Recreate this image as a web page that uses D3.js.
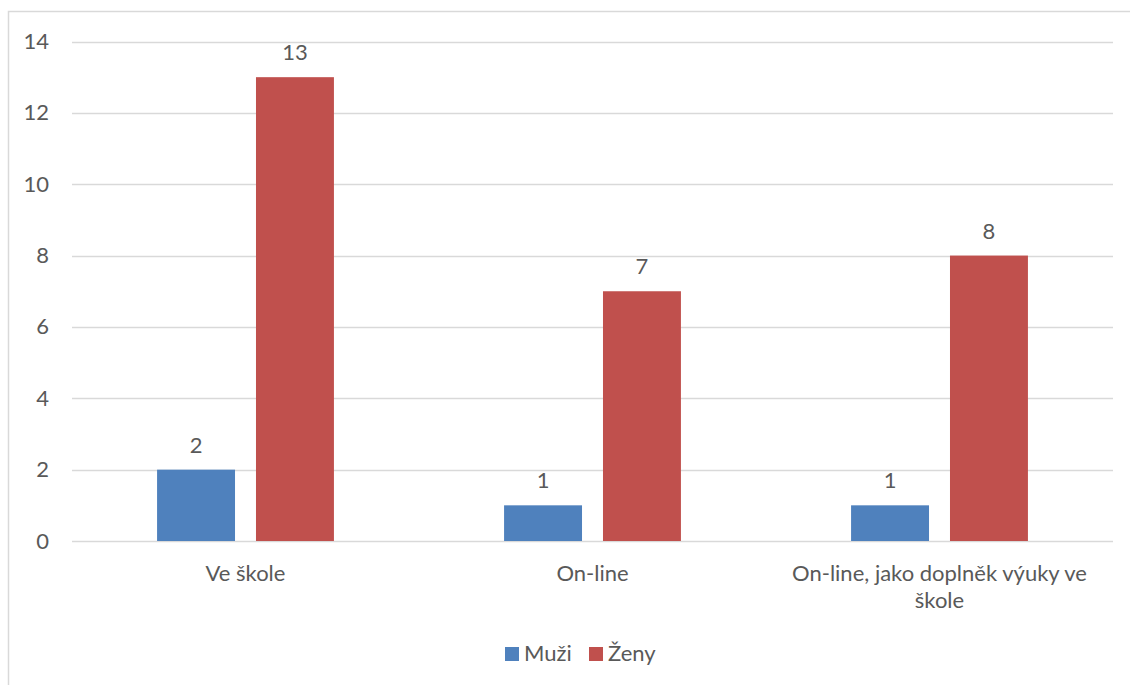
<!DOCTYPE html>
<html><head><meta charset="utf-8">
<script src="https://cdn.jsdelivr.net/npm/d3@7"></script>
<style>body{margin:0;background:#fff}svg{display:block}text{font-family:Lato,"Open Sans",sans-serif;fill:#595959}</style>
</head><body>
<script>
const categories = ["Ve škole", "On-line", "On-line, jako doplněk výuky ve škole"];
const seriesNames = ["Muži", "Ženy"];
const muzi = [2, 1, 1];
const zeny = [13, 7, 8];
const yTicks = [0, 2, 4, 6, 8, 10, 12, 14];
const colors = ["#4F81BD", "#C0504D"];

const W = 1130, H = 685;
const FS = 22;
const svg = d3.select("body").append("svg").attr("width", W).attr("height", H);
svg.append("rect").attr("x", 8.5).attr("y", 11.5).attr("width", 1140).attr("height", 700)
  .attr("fill", "none").attr("stroke", "#d9d9d9").attr("stroke-width", 1.5);

const x0 = d3.scaleBand().domain(categories).range([72, 1113]);
const y = d3.scaleLinear().domain([0, 14]).range([541, 41.5]);
const x1 = d3.scaleBand().domain(seriesNames).range([0, x0.bandwidth()]).paddingInner(0.212).paddingOuter(0.86);

// gridlines
svg.append("g").selectAll("line").data(yTicks).join("line")
  .attr("x1", 72).attr("x2", 1113).attr("y1", d => Math.round(y(d)) + 0.5).attr("y2", d => Math.round(y(d)) + 0.5)
  .attr("stroke", "#d9d9d9").attr("stroke-width", 1.5);

// y labels
svg.append("g").selectAll("text").data(yTicks).join("text")
  .attr("x", 49).attr("y", d => y(d) + 7.5).attr("text-anchor", "end").attr("font-size", FS).text(d => d);

const data = categories.map((c, i) => ({c, vals: [muzi[i], zeny[i]]}));
const g = svg.append("g").selectAll("g").data(data).join("g").attr("transform", d => `translate(${x0(d.c)},0)`);
g.selectAll("rect").data(d => d.vals.map((v, j) => ({s: seriesNames[j], v, j}))).join("rect")
  .attr("x", d => x1(d.s)).attr("width", x1.bandwidth())
  .attr("y", d => y(d.v)).attr("height", d => y(0) - y(d.v)).attr("fill", d => colors[d.j]);
g.selectAll("text.lbl").data(d => d.vals.map((v, j) => ({s: seriesNames[j], v, j}))).join("text")
  .attr("class", "lbl").attr("x", d => x1(d.s) + x1.bandwidth() / 2).attr("y", d => y(d.v) - 17)
  .attr("text-anchor", "middle").attr("font-size", FS).text(d => d.v);

// category labels with wrapping
const catLines = {"On-line, jako doplněk výuky ve škole": ["On-line, jako doplněk výuky ve", "škole"]};
categories.forEach(c => {
  const lines = catLines[c] || [c];
  const t = svg.append("text").attr("text-anchor", "middle").attr("font-size", FS);
  lines.forEach((l, i) => t.append("tspan").attr("x", x0(c) + x0.bandwidth() / 2).attr("y", 581 + i * 27).text(l));
});

// legend
const leg = svg.append("g");
const legX = [505, 589];
seriesNames.forEach((s, i) => {
  leg.append("rect").attr("x", legX[i]).attr("y", 647).attr("width", 14).attr("height", 14).attr("fill", colors[i]);
  leg.append("text").attr("x", legX[i] + 19).attr("y", 661).attr("font-size", FS).text(s);
});
</script>
</body></html>
